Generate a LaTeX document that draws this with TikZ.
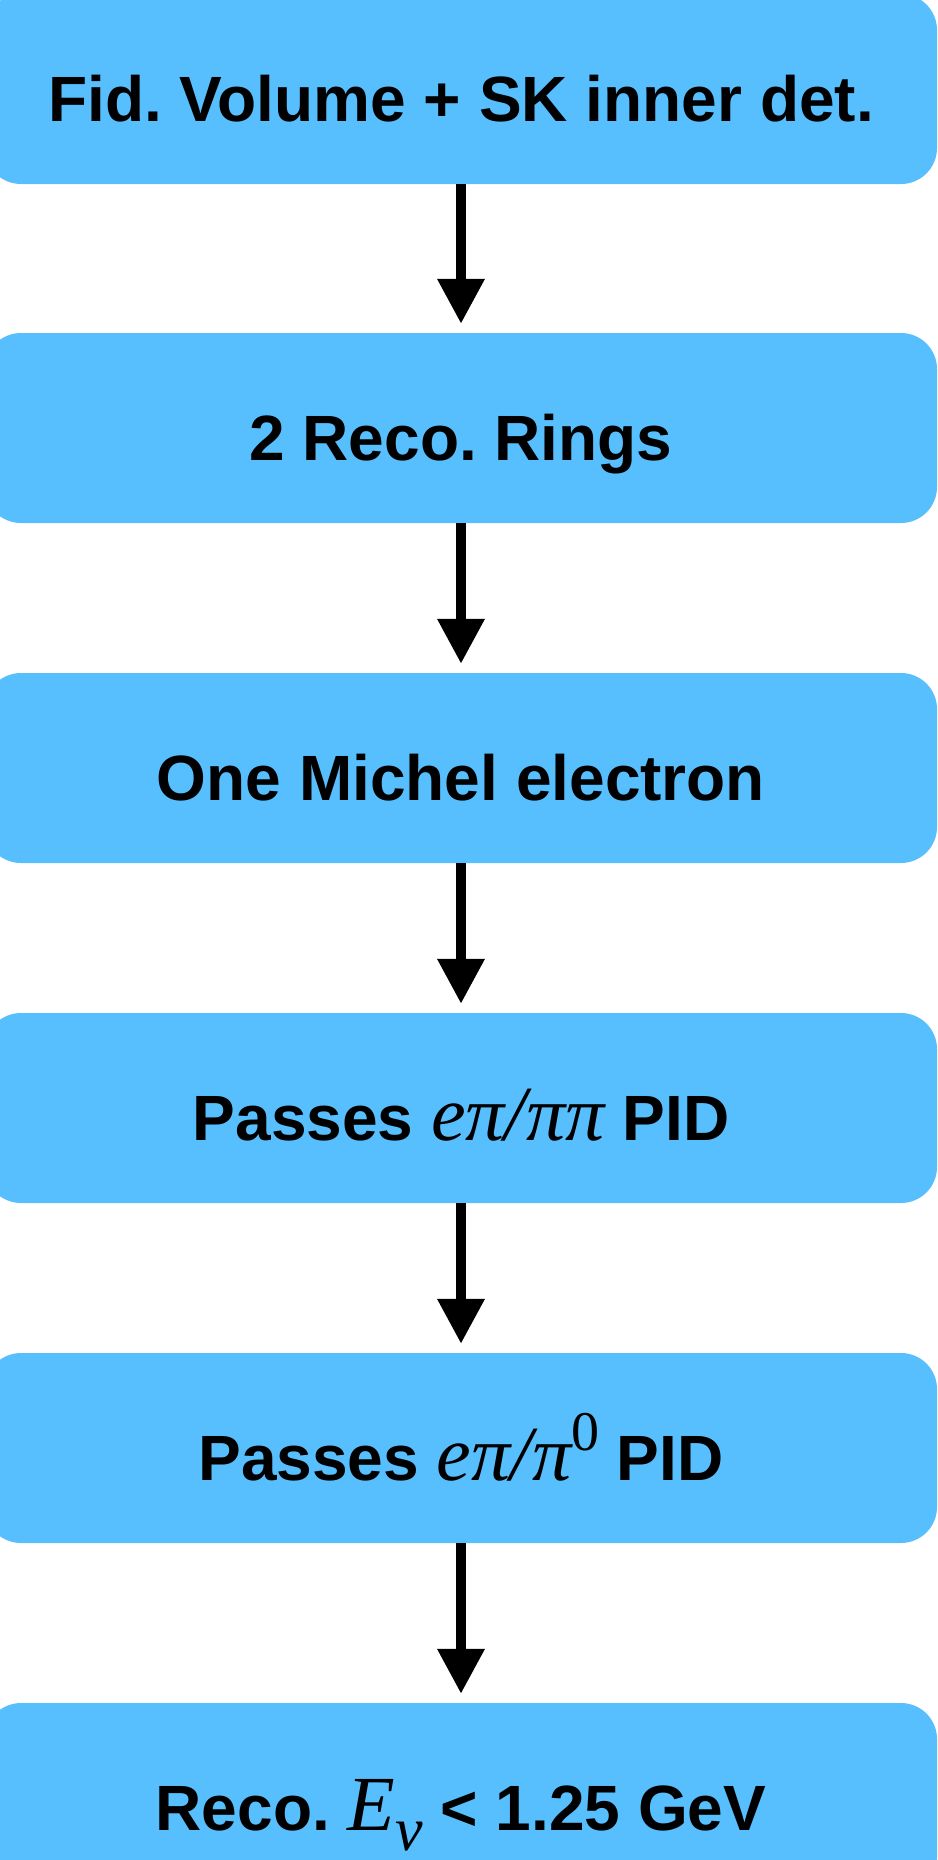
\documentclass[tikz,border=0pt]{standalone}
\usepackage{fontspec}
\setmainfont{Liberation Sans}
\newfontfamily\serifit{Liberation Serif}[UprightFont=* Italic]
\newfontfamily\serifup{Liberation Serif}
\usetikzlibrary{arrows.meta}
\definecolor{boxblue}{RGB}{87,191,254}
\newcommand\mvar[1]{{\serifit\mdseries\fontsize{78}{90}\selectfont #1}}
\newcommand\msub[1]{\raisebox{-20pt}{\serifit\mdseries\fontsize{62}{70}\selectfont #1}}
\newcommand\msup[1]{\raisebox{30pt}{\serifup\mdseries\fontsize{56}{64}\selectfont #1}}
\tikzset{
  stepbox/.style={rectangle, fill=boxblue, rounded corners=36pt, inner sep=0pt,
    minimum width=952pt, minimum height=190pt, text height=64pt, text depth=0pt,
    font=\fontsize{64}{77}\selectfont\bfseries\frenchspacing},
  flowarrow/.style={line width=10pt, -{Triangle[width=45pt,length=45pt]}, shorten >=9pt}
}
\begin{document}
\begin{tikzpicture}[x=1pt,y=-1pt]
\useasboundingbox (0,0) rectangle (937,1860);
\clip (0,0) rectangle (937,1860);
\node[stepbox] (b1) at (461,89) {Fid. Volume + SK inner det.};
\node[stepbox] (b2) at (461,428) {2 Reco. Rings};
\node[stepbox] (b3) at (461,768) {One Michel electron};
\node[stepbox] (b4) at (461,1108) {Passes \mvar{eπ/ππ} PID};
\node[stepbox] (b5) at (461,1448) {Passes \mvar{eπ/π}\msup{0} PID};
\node[stepbox] (b6) at (461,1798) {Reco. \mvar{E}\msub{ν} < 1.25 GeV};
\draw[flowarrow] (b1) -- (b2);
\draw[flowarrow] (b2) -- (b3);
\draw[flowarrow] (b3) -- (b4);
\draw[flowarrow] (b4) -- (b5);
\draw[flowarrow] (b5) -- (b6);
\end{tikzpicture}
\end{document}
